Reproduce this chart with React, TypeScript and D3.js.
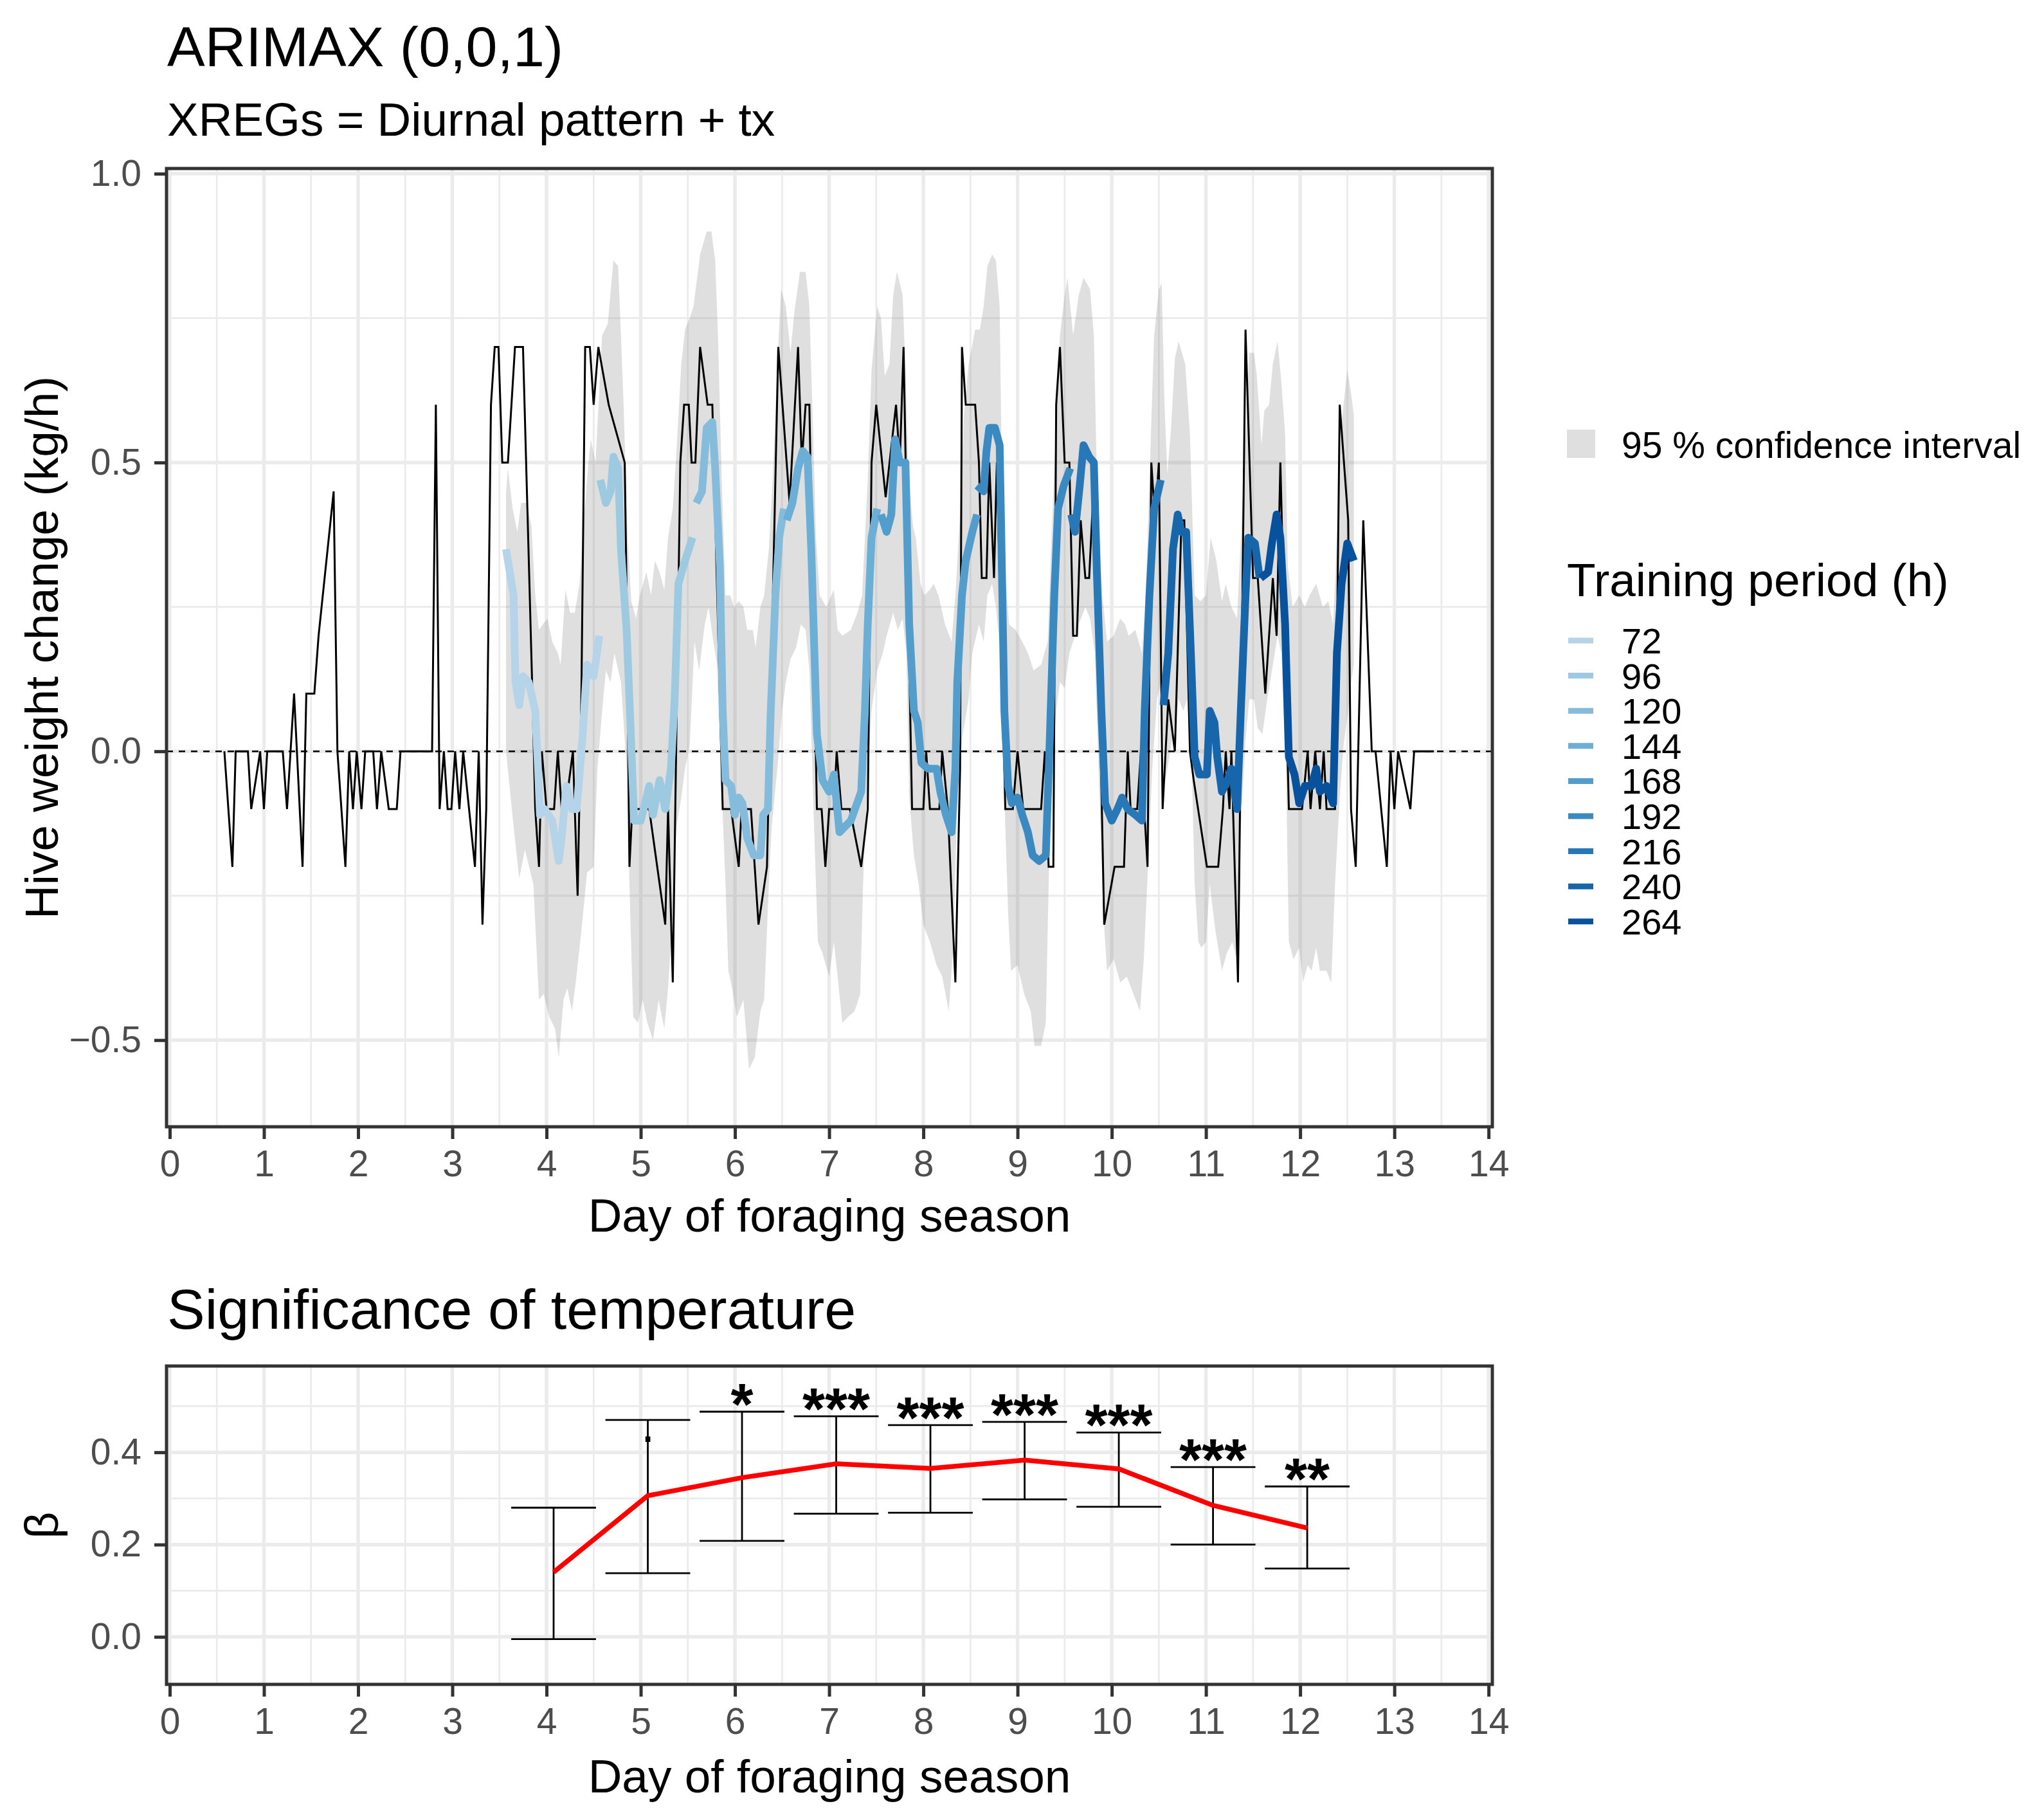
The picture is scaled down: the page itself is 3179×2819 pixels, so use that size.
import React, { useEffect, useRef } from 'react';
import * as d3 from 'd3';

type Pt = [number, number];

// observed hourly hive weight change (day, kg/h)
const observed: Pt[] = [
  [0.58, 0], [0.665, -0.2], [0.7, 0], [0.83, 0], [0.865, -0.1], [0.96, 0], [1.0, -0.1], [1.035, 0],
  [1.2, 0], [1.245, -0.1], [1.32, 0.1], [1.41, -0.2], [1.45, 0.1], [1.535, 0.1], [1.58, 0.2], [1.74, 0.45],
  [1.78, 0], [1.865, -0.2], [1.905, 0], [1.945, -0.1], [1.985, 0], [2.035, -0.1], [2.075, 0], [2.16, 0],
  [2.2, -0.1], [2.245, 0], [2.325, -0.1], [2.41, -0.1], [2.45, 0], [2.785, 0], [2.825, 0.6], [2.865, -0.1],
  [2.91, 0], [2.95, -0.1], [2.99, -0.1], [3.03, 0], [3.075, -0.1], [3.115, 0], [3.24, -0.2], [3.28, 0],
  [3.32, -0.3], [3.36, -0.1], [3.41, 0.6], [3.45, 0.7], [3.49, 0.7], [3.53, 0.5], [3.59, 0.5], [3.665, 0.7],
  [3.75, 0.7], [3.85, 0.1], [3.88, -0.1], [3.92, -0.2], [3.95, 0], [4.0, -0.1], [4.08, -0.1], [4.12, 0],
  [4.16, -0.1], [4.2, -0.1], [4.28, 0], [4.33, -0.25], [4.37, 0.1], [4.41, 0.7], [4.46, 0.7], [4.5, 0.6],
  [4.55, 0.7], [4.66, 0.6], [4.83, 0.5], [4.85, 0.27], [4.88, -0.2], [4.91, -0.1], [5.09, -0.1], [5.26, -0.3],
  [5.29, -0.1], [5.34, -0.4], [5.42, 0.5], [5.46, 0.6], [5.51, 0.6], [5.54, 0.5], [5.58, 0.5], [5.63, 0.7],
  [5.71, 0.6], [5.76, 0.6], [5.87, -0.1], [5.96, -0.1], [6.04, -0.2], [6.07, -0.1], [6.17, -0.1], [6.25, -0.3],
  [6.34, -0.2], [6.46, 0.7], [6.58, 0.43], [6.67, 0.7], [6.71, 0.5], [6.75, 0.6], [6.79, 0.6], [6.87, -0.1],
  [6.92, -0.1], [6.96, -0.2], [7.0, -0.1], [7.05, -0.1], [7.08, 0], [7.13, -0.1], [7.22, -0.1], [7.34, -0.2],
  [7.41, -0.1], [7.45, 0.5], [7.5, 0.6], [7.6, 0.44], [7.71, 0.6], [7.75, 0.5], [7.79, 0.7], [7.86, 0.07],
  [7.88, -0.1], [8.0, -0.1], [8.03, 0], [8.07, -0.1], [8.17, -0.1], [8.2, 0], [8.26, -0.1], [8.34, -0.4],
  [8.39, -0.03], [8.41, 0.7], [8.45, 0.6], [8.55, 0.6], [8.59, 0.5], [8.62, 0.3], [8.67, 0.3], [8.7, 0.5],
  [8.75, 0.3], [8.78, 0.5], [8.87, -0.1], [8.95, -0.1], [9.0, 0], [9.06, -0.1], [9.25, -0.1], [9.29, 0],
  [9.33, -0.2], [9.38, -0.2], [9.41, 0.6], [9.45, 0.7], [9.5, 0.5], [9.55, 0.5], [9.59, 0.2], [9.63, 0.2],
  [9.67, 0.4], [9.72, 0.3], [9.76, 0.3], [9.82, 0.5], [9.92, -0.3], [10.03, -0.2], [10.13, -0.2], [10.17, 0],
  [10.2, -0.1], [10.27, -0.1], [10.31, 0], [10.38, -0.2], [10.42, 0.5], [10.46, 0.4], [10.5, 0.5], [10.54, -0.1],
  [10.6, 0.09], [10.67, 0], [10.74, 0.4], [10.77, 0.4], [10.83, 0], [10.87, -0.05], [11.01, -0.2], [11.13, -0.2],
  [11.18, -0.1], [11.21, 0], [11.25, -0.1], [11.27, 0], [11.34, -0.4], [11.42, 0.73], [11.5, 0.3], [11.55, 0.3],
  [11.63, 0.1], [11.71, 0.3], [11.75, 0.2], [11.79, 0.5], [11.88, -0.1], [12.02, -0.1], [12.08, 0], [12.11, -0.1],
  [12.16, 0], [12.21, -0.1], [12.25, 0], [12.28, -0.1], [12.37, -0.1], [12.42, 0.6], [12.51, 0.4], [12.54, -0.1],
  [12.59, -0.2], [12.67, 0.4], [12.76, 0], [12.8, 0], [12.92, -0.2], [12.96, 0], [13.0, -0.1], [13.04, 0],
  [13.17, -0.1], [13.21, 0], [13.42, 0],
];

// 95 % confidence interval, upper and lower edge
const ciUpper: Pt[] = [
  [3.57, 0.45], [3.59, 0.49], [3.64, 0.42], [3.69, 0.38], [3.73, 0.43], [3.79, 0.43], [3.84, 0.39], [3.88, 0.27],
  [3.92, 0.21], [3.96, 0.22], [4.01, 0.23], [4.06, 0.19], [4.12, 0.17], [4.15, 0.15], [4.2, 0.28], [4.25, 0.24],
  [4.3, 0.24], [4.35, 0.29], [4.4, 0.41], [4.45, 0.51], [4.47, 0.54], [4.52, 0.5], [4.59, 0.72], [4.65, 0.74],
  [4.71, 0.85], [4.76, 0.84], [4.79, 0.72], [4.82, 0.59], [4.86, 0.37], [4.9, 0.26], [4.95, 0.23], [4.99, 0.27],
  [5.06, 0.31], [5.11, 0.27], [5.15, 0.33], [5.2, 0.31], [5.25, 0.28], [5.29, 0.37], [5.34, 0.42], [5.38, 0.52],
  [5.43, 0.67], [5.47, 0.73], [5.52, 0.75], [5.56, 0.77], [5.63, 0.86], [5.7, 0.9], [5.75, 0.9], [5.79, 0.85],
  [5.82, 0.72], [5.86, 0.47], [5.9, 0.27], [5.95, 0.27], [5.99, 0.25], [6.04, 0.26], [6.09, 0.25], [6.13, 0.21],
  [6.19, 0.21], [6.22, 0.18], [6.27, 0.25], [6.31, 0.27], [6.36, 0.35], [6.4, 0.47], [6.45, 0.67], [6.49, 0.8],
  [6.54, 0.77], [6.59, 0.69], [6.63, 0.76], [6.69, 0.83], [6.75, 0.83], [6.79, 0.77], [6.83, 0.55], [6.86, 0.37],
  [6.9, 0.27], [6.97, 0.25], [7.05, 0.28], [7.09, 0.21], [7.14, 0.2], [7.23, 0.21], [7.3, 0.24], [7.35, 0.27],
  [7.41, 0.47], [7.45, 0.66], [7.51, 0.77], [7.55, 0.75], [7.59, 0.65], [7.64, 0.67], [7.68, 0.79], [7.72, 0.83],
  [7.78, 0.79], [7.81, 0.66], [7.84, 0.49], [7.89, 0.39], [7.92, 0.37], [7.97, 0.29], [8.01, 0.27], [8.07, 0.28],
  [8.11, 0.29], [8.16, 0.27], [8.23, 0.22], [8.3, 0.19], [8.34, 0.27], [8.39, 0.41], [8.43, 0.58], [8.48, 0.67],
  [8.55, 0.73], [8.6, 0.73], [8.64, 0.77], [8.68, 0.84], [8.73, 0.86], [8.77, 0.85], [8.81, 0.77], [8.83, 0.52],
  [8.86, 0.32], [8.91, 0.22], [8.98, 0.21], [9.05, 0.19], [9.11, 0.17], [9.17, 0.14], [9.25, 0.15], [9.32, 0.19],
  [9.36, 0.37], [9.41, 0.57], [9.45, 0.72], [9.5, 0.79], [9.53, 0.82], [9.59, 0.72], [9.65, 0.79], [9.7, 0.82],
  [9.77, 0.8], [9.81, 0.72], [9.84, 0.49], [9.9, 0.27], [9.95, 0.19], [10.02, 0.2], [10.09, 0.23], [10.14, 0.22],
  [10.18, 0.2], [10.25, 0.21], [10.32, 0.17], [10.36, 0.27], [10.41, 0.52], [10.45, 0.72], [10.5, 0.8], [10.53, 0.81],
  [10.56, 0.6], [10.59, 0.48], [10.63, 0.56], [10.67, 0.68], [10.71, 0.71], [10.78, 0.67], [10.83, 0.55], [10.88, 0.27],
  [10.94, 0.26], [11.0, 0.27], [11.05, 0.37], [11.11, 0.33], [11.17, 0.26], [11.21, 0.29], [11.27, 0.25], [11.33, 0.23],
  [11.37, 0.37], [11.42, 0.54], [11.46, 0.69], [11.51, 0.69], [11.54, 0.65], [11.59, 0.53], [11.62, 0.59], [11.67, 0.6],
  [11.71, 0.67], [11.76, 0.71], [11.8, 0.64], [11.84, 0.55], [11.87, 0.32], [11.92, 0.25], [11.99, 0.27], [12.05, 0.25],
  [12.1, 0.27], [12.17, 0.29], [12.24, 0.25], [12.3, 0.26], [12.35, 0.22], [12.39, 0.37], [12.44, 0.57], [12.5, 0.66],
  [12.54, 0.62], [12.57, 0.58],
];

const ciLower: Pt[] = [
  [3.57, 0.0], [3.65, -0.13], [3.71, -0.22], [3.77, -0.17], [3.86, -0.23], [3.92, -0.43], [3.97, -0.42], [4.03, -0.46],
  [4.09, -0.48], [4.13, -0.53], [4.18, -0.43], [4.22, -0.41], [4.27, -0.45], [4.31, -0.4], [4.37, -0.31], [4.43, -0.21],
  [4.5, -0.2], [4.54, -0.03], [4.59, 0.07], [4.63, 0.14], [4.68, 0.12], [4.72, 0.17], [4.79, 0.12], [4.85, -0.03],
  [4.88, -0.23], [4.92, -0.46], [4.97, -0.47], [5.02, -0.43], [5.07, -0.47], [5.13, -0.5], [5.19, -0.43], [5.25, -0.48],
  [5.29, -0.41], [5.34, -0.28], [5.38, -0.13], [5.43, -0.08], [5.47, -0.03], [5.52, 0.01], [5.57, 0.19], [5.62, 0.14],
  [5.68, 0.22], [5.72, 0.25], [5.77, 0.19], [5.81, 0.15], [5.85, -0.03], [5.9, -0.23], [5.93, -0.38], [5.97, -0.41],
  [6.02, -0.46], [6.09, -0.43], [6.15, -0.55], [6.21, -0.53], [6.27, -0.45], [6.31, -0.43], [6.36, -0.23], [6.39, -0.13],
  [6.45, -0.03], [6.5, 0.07], [6.54, 0.12], [6.59, 0.16], [6.65, 0.18], [6.7, 0.22], [6.75, 0.21], [6.79, 0.14],
  [6.84, -0.13], [6.88, -0.33], [6.93, -0.35], [7.0, -0.39], [7.05, -0.33], [7.09, -0.39], [7.14, -0.47], [7.2, -0.46],
  [7.27, -0.45], [7.33, -0.42], [7.36, -0.23], [7.41, -0.03], [7.45, 0.07], [7.51, 0.14], [7.57, 0.17], [7.61, 0.2],
  [7.68, 0.24], [7.73, 0.21], [7.78, 0.23], [7.82, 0.17], [7.85, -0.08], [7.9, -0.18], [7.95, -0.23], [8.0, -0.3],
  [8.07, -0.33], [8.14, -0.37], [8.2, -0.39], [8.27, -0.45], [8.32, -0.33], [8.36, -0.08], [8.41, 0.02], [8.48, 0.09],
  [8.52, 0.17], [8.59, 0.22], [8.64, 0.19], [8.68, 0.27], [8.73, 0.29], [8.77, 0.25], [8.82, 0.17], [8.85, -0.03],
  [8.9, -0.28], [8.93, -0.38], [9.0, -0.37], [9.07, -0.42], [9.14, -0.45], [9.18, -0.51], [9.25, -0.51], [9.3, -0.47],
  [9.33, -0.23], [9.36, -0.03], [9.41, 0.07], [9.45, 0.12], [9.5, 0.11], [9.55, 0.17], [9.59, 0.19], [9.65, 0.22],
  [9.72, 0.25], [9.77, 0.23], [9.82, 0.17], [9.86, -0.03], [9.91, -0.28], [9.95, -0.38], [10.02, -0.36], [10.09, -0.4],
  [10.16, -0.39], [10.23, -0.42], [10.3, -0.45], [10.34, -0.36], [10.39, -0.18], [10.43, -0.03], [10.48, 0.09], [10.52, 0.12],
  [10.57, -0.05], [10.64, 0.02], [10.71, 0.09], [10.76, 0.07], [10.8, 0.09], [10.85, -0.03], [10.88, -0.23], [10.92, -0.33],
  [10.95, -0.34], [11.0, -0.33], [11.04, -0.23], [11.1, -0.31], [11.17, -0.38], [11.22, -0.35], [11.28, -0.33], [11.33, -0.36],
  [11.37, -0.13], [11.42, 0.02], [11.46, 0.09], [11.51, 0.09], [11.55, 0.04], [11.6, 0.03], [11.65, 0.09], [11.71, 0.15],
  [11.76, 0.2], [11.8, 0.17], [11.85, -0.03], [11.88, -0.33], [11.93, -0.36], [11.99, -0.34], [12.03, -0.4], [12.08, -0.37],
  [12.12, -0.38], [12.17, -0.34], [12.21, -0.38], [12.28, -0.38], [12.33, -0.4], [12.37, -0.23], [12.42, -0.08], [12.46, 0.01],
  [12.51, 0.07], [12.54, 0.12], [12.57, 0.15],
];

// forecasts, one per training period (h)
const fc72: Pt[] = [
  [3.57, 0.35], [3.65, 0.27], [3.67, 0.12], [3.71, 0.08], [3.75, 0.13], [3.81, 0.12], [3.88, 0.07], [3.91, -0.03],
  [3.93, -0.11], [3.98, -0.1], [4.06, -0.12], [4.13, -0.19], [4.16, -0.15], [4.21, -0.06], [4.27, -0.1], [4.32, -0.1],
  [4.38, 0.02], [4.43, 0.15], [4.5, 0.13], [4.56, 0.2],
];
const fc96: Pt[] = [
  [4.57, 0.47], [4.63, 0.43], [4.68, 0.45], [4.71, 0.51], [4.76, 0.49], [4.79, 0.35], [4.85, 0.21], [4.89, 0.05],
  [4.93, -0.12], [5.0, -0.12], [5.09, -0.06], [5.13, -0.11], [5.2, -0.05], [5.26, -0.1], [5.32, -0.03], [5.36, 0.09],
  [5.4, 0.29], [5.47, 0.33], [5.55, 0.37],
];
const fc120: Pt[] = [
  [5.59, 0.43], [5.65, 0.45], [5.7, 0.56], [5.76, 0.57], [5.79, 0.49], [5.84, 0.32], [5.87, 0.07], [5.9, -0.05],
  [5.96, -0.06], [6.0, -0.11], [6.04, -0.08], [6.08, -0.09], [6.13, -0.15], [6.2, -0.18], [6.27, -0.18], [6.3, -0.11],
  [6.35, -0.1], [6.38, 0.07], [6.43, 0.27], [6.47, 0.37], [6.52, 0.42],
];
const fc144: Pt[] = [
  [6.55, 0.4], [6.61, 0.43], [6.67, 0.49], [6.72, 0.52], [6.77, 0.51], [6.81, 0.35], [6.87, 0.03], [6.93, -0.05],
  [7.0, -0.07], [7.05, -0.04], [7.11, -0.14], [7.23, -0.12], [7.34, -0.07], [7.38, 0.07], [7.41, 0.22], [7.45, 0.37],
  [7.51, 0.42],
];
const fc168: Pt[] = [
  [7.55, 0.41], [7.61, 0.38], [7.66, 0.41], [7.7, 0.54], [7.75, 0.5], [7.81, 0.5], [7.85, 0.22], [7.9, 0.07],
  [7.94, 0.05], [7.98, -0.02], [8.05, -0.03], [8.14, -0.03], [8.18, -0.07], [8.24, -0.11], [8.3, -0.14], [8.34, -0.03],
  [8.36, 0.12], [8.41, 0.27], [8.45, 0.33], [8.52, 0.38], [8.57, 0.41],
];
const fc192: Pt[] = [
  [8.57, 0.46], [8.64, 0.45], [8.67, 0.52], [8.7, 0.56], [8.76, 0.56], [8.81, 0.53], [8.83, 0.35], [8.86, 0.07],
  [8.9, -0.06], [8.94, -0.09], [9.0, -0.08], [9.05, -0.11], [9.11, -0.14], [9.16, -0.18], [9.23, -0.19], [9.3, -0.18],
  [9.34, 0.01], [9.39, 0.27], [9.43, 0.42], [9.49, 0.46], [9.56, 0.49],
];
const fc216: Pt[] = [
  [9.57, 0.41], [9.61, 0.38], [9.66, 0.46], [9.7, 0.53], [9.76, 0.51], [9.81, 0.5], [9.84, 0.32], [9.89, 0.07],
  [9.93, -0.09], [10.0, -0.12], [10.06, -0.1], [10.11, -0.08], [10.17, -0.1], [10.25, -0.11], [10.32, -0.12], [10.35, 0.07],
  [10.4, 0.27], [10.45, 0.42], [10.52, 0.47],
];
const fc240: Pt[] = [
  [10.55, 0.08], [10.6, 0.17], [10.65, 0.35], [10.7, 0.41], [10.74, 0.38], [10.79, 0.38], [10.84, 0.17], [10.88, -0.01],
  [10.93, -0.04], [11.01, -0.04], [11.04, 0.07], [11.09, 0.05], [11.12, -0.01], [11.17, -0.07], [11.23, -0.05], [11.27, -0.03],
  [11.33, -0.1], [11.37, 0.07], [11.42, 0.27], [11.45, 0.37], [11.52, 0.36], [11.57, 0.3],
];
const fc264: Pt[] = [
  [11.58, 0.3], [11.66, 0.31], [11.7, 0.36], [11.75, 0.41], [11.79, 0.37], [11.84, 0.22], [11.88, -0.01], [11.94, -0.04],
  [11.99, -0.09], [12.05, -0.06], [12.12, -0.06], [12.17, -0.03], [12.21, -0.07], [12.28, -0.06], [12.35, -0.09], [12.39, 0.17],
  [12.44, 0.29], [12.5, 0.36], [12.57, 0.33],
];

const periods = [72, 96, 120, 144, 168, 192, 216, 240, 264];
const periodColors = ['#b6d4e9', '#9ecae1', '#85bcdc', '#6baed6', '#529dcc', '#3a8ac1', '#2878b8', '#1765ab', '#08519c'];
const forecasts = [fc72, fc96, fc120, fc144, fc168, fc192, fc216, fc240, fc264];

// temperature coefficient per forecast day
const betaDay = [4.075, 5.075, 6.075, 7.075, 8.075, 9.075, 10.075, 11.075, 12.075];
const betaEst = [0.14, 0.306, 0.345, 0.375, 0.365, 0.383, 0.364, 0.285, 0.236];
const betaLow = [-0.005, 0.138, 0.208, 0.267, 0.269, 0.298, 0.282, 0.2, 0.148];
const betaHigh = [0.28, 0.47, 0.488, 0.478, 0.459, 0.466, 0.443, 0.368, 0.326];
const sigLabels = ['', '.', '*', '***', '***', '***', '***', '***', '**'];

const dayTicks = d3.range(0, 15);
const topYTicks = [-0.5, 0, 0.5, 1.0];
const topYLabels = ['\u22120.5', '0.0', '0.5', '1.0'];
const botYTicks = [0, 0.2, 0.4];
const botYLabels = ['0.0', '0.2', '0.4'];

const W = 3179;
const H = 2819;
const FONT = '"Liberation Sans", Arial, Helvetica, sans-serif';

const App: React.FC = () => {
  const ref = useRef<SVGSVGElement>(null);

  useEffect(() => {
    document.body.style.margin = '0';
    if (!ref.current) return;
    const svg = d3.select(ref.current);
    svg.selectAll('*').remove();
    svg.attr('font-family', FONT);

    const left = 259, right = 2321;
    const top1 = 262, bot1 = 1752;
    const top2 = 2124, bot2 = 2619;

    const x = d3.scaleLinear().domain([-0.034, 14.04]).range([left, right]);
    const y1 = d3.scaleLinear().domain([-0.65, 1.009]).range([bot1, top1]);
    const y2 = d3.scaleLinear().domain([-0.103, 0.587]).range([bot2, top2]);

    svg.append('rect').attr('width', W).attr('height', H).attr('fill', 'white');

    const grid = (y: d3.ScaleLinear<number, number>, top: number, bot: number, major: number[], minor: number[]) => {
      const g = svg.append('g');
      const minorX = d3.range(0.5, 14, 1);
      g.selectAll('.mx').data(minorX).enter().append('line')
        .attr('x1', (d) => x(d)).attr('x2', (d) => x(d)).attr('y1', top).attr('y2', bot)
        .attr('stroke', '#ebebeb').attr('stroke-width', 2.8);
      g.selectAll('.my').data(minor).enter().append('line')
        .attr('x1', left).attr('x2', right).attr('y1', (d) => y(d)).attr('y2', (d) => y(d))
        .attr('stroke', '#ebebeb').attr('stroke-width', 2.8);
      g.selectAll('.Mx').data(dayTicks).enter().append('line')
        .attr('x1', (d) => x(d)).attr('x2', (d) => x(d)).attr('y1', top).attr('y2', bot)
        .attr('stroke', '#ebebeb').attr('stroke-width', 5.5);
      g.selectAll('.My').data(major).enter().append('line')
        .attr('x1', left).attr('x2', right).attr('y1', (d) => y(d)).attr('y2', (d) => y(d))
        .attr('stroke', '#ebebeb').attr('stroke-width', 5.5);
    };

    const axes = (y: d3.ScaleLinear<number, number>, top: number, bot: number, yTicks: number[], yLabels: string[]) => {
      const xa = svg.append('g')
        .attr('transform', `translate(0,${bot})`)
        .call(d3.axisBottom(x).tickValues(dayTicks).tickFormat((d) => String(d)).tickSize(19).tickPadding(18));
      const ya = svg.append('g')
        .attr('transform', `translate(${left},0)`)
        .call(d3.axisLeft(y).tickValues(yTicks).tickFormat((_, i) => yLabels[i]).tickSize(19).tickPadding(20));
      [xa, ya].forEach((a) => {
        a.select('.domain').remove();
        a.selectAll('.tick line').attr('stroke', '#333333').attr('stroke-width', 5);
        a.selectAll('.tick text').attr('fill', '#4d4d4d').attr('font-size', 57).attr('font-family', FONT);
      });
      svg.append('rect')
        .attr('x', left).attr('y', top).attr('width', right - left).attr('height', bot - top)
        .attr('fill', 'none').attr('stroke', '#333333').attr('stroke-width', 5);
    };

    // ---------- top panel ----------
    grid(y1, top1, bot1, topYTicks, [-0.25, 0.25, 0.75]);

    const line1 = d3.line<Pt>().x((d) => x(d[0])).y((d) => y1(d[1]));
    const ribbon = ciUpper.concat(ciLower.slice().reverse());
    svg.append('path')
      .attr('d', line1(ribbon) + 'Z')
      .attr('fill', '#7f7f7f').attr('fill-opacity', 0.25);

    svg.append('line')
      .attr('x1', left).attr('x2', right).attr('y1', y1(0)).attr('y2', y1(0))
      .attr('stroke', 'black').attr('stroke-width', 2.4).attr('stroke-dasharray', '10 9');

    svg.append('path').datum(observed)
      .attr('d', line1).attr('fill', 'none').attr('stroke', 'black')
      .attr('stroke-width', 3).attr('stroke-linejoin', 'miter');

    forecasts.forEach((pts, i) => {
      svg.append('path').datum(pts)
        .attr('d', line1).attr('fill', 'none').attr('stroke', periodColors[i])
        .attr('stroke-width', 12).attr('stroke-linejoin', 'round');
    });

    axes(y1, top1, bot1, topYTicks, topYLabels);

    svg.append('text').attr('x', 260).attr('y', 103).attr('font-size', 88).text('ARIMAX (0,0,1)');
    svg.append('text').attr('x', 260).attr('y', 211).attr('font-size', 73).text('XREGs = Diurnal pattern + tx');
    svg.append('text')
      .attr('transform', `translate(90,${(top1 + bot1) / 2}) rotate(-90)`)
      .attr('text-anchor', 'middle').attr('font-size', 73).text('Hive weight change (kg/h)');
    svg.append('text')
      .attr('x', (left + right) / 2).attr('y', 1915)
      .attr('text-anchor', 'middle').attr('font-size', 73).text('Day of foraging season');

    // legend
    svg.append('rect').attr('x', 2437).attr('y', 668).attr('width', 44).attr('height', 44).attr('fill', '#dfdfdf');
    svg.append('text').attr('x', 2522).attr('y', 712).attr('font-size', 57).text('95 % confidence interval');
    svg.append('text').attr('x', 2437).attr('y', 927).attr('font-size', 73).text('Training period (h)');
    const leg = svg.append('g');
    periods.forEach((p, i) => {
      const cy = 996 + i * 54.6;
      leg.append('line').attr('x1', 2439).attr('x2', 2478).attr('y1', cy).attr('y2', cy)
        .attr('stroke', periodColors[i]).attr('stroke-width', 9);
      leg.append('text').attr('x', 2522).attr('y', cy + 20).attr('font-size', 56).text(String(p));
    });

    // ---------- bottom panel ----------
    grid(y2, top2, bot2, botYTicks, [0.1, 0.3, 0.5]);

    const bars = svg.append('g');
    betaDay.forEach((d, i) => {
      const cx = x(d);
      const hw = x(d + 0.45) - cx;
      bars.append('line').attr('x1', cx).attr('x2', cx).attr('y1', y2(betaLow[i])).attr('y2', y2(betaHigh[i]))
        .attr('stroke', 'black').attr('stroke-width', 2.8);
      [betaLow[i], betaHigh[i]].forEach((v) => {
        bars.append('line').attr('x1', cx - hw).attr('x2', cx + hw).attr('y1', y2(v)).attr('y2', y2(v))
          .attr('stroke', 'black').attr('stroke-width', 2.8);
      });
      const lab = sigLabels[i];
      if (lab === '.') {
        bars.append('text').attr('x', cx).attr('y', y2(betaHigh[i]) + 34)
          .attr('text-anchor', 'middle').attr('font-size', 80).text(lab);
      } else if (lab) {
        bars.append('text').attr('x', cx).attr('y', y2(betaHigh[i]) + 20)
          .attr('text-anchor', 'middle').attr('font-size', 90).attr('font-weight', 'bold').text(lab);
      }
    });

    const line2 = d3.line<number>().x((_, i) => x(betaDay[i])).y((d) => y2(d));
    svg.append('path').datum(betaEst)
      .attr('d', line2).attr('fill', 'none').attr('stroke', 'red').attr('stroke-width', 7.5);

    axes(y2, top2, bot2, botYTicks, botYLabels);

    svg.append('text').attr('x', 260).attr('y', 2066).attr('font-size', 88).text('Significance of temperature');
    svg.append('text')
      .attr('transform', `translate(90,${(top2 + bot2) / 2}) rotate(-90)`)
      .attr('text-anchor', 'middle').attr('font-size', 73).text('\u03b2');
    svg.append('text')
      .attr('x', (left + right) / 2).attr('y', 2787)
      .attr('text-anchor', 'middle').attr('font-size', 73).text('Day of foraging season');
  }, []);

  return <svg ref={ref} width={W} height={H} style={{ display: 'block' }} />;
};

export default App;
